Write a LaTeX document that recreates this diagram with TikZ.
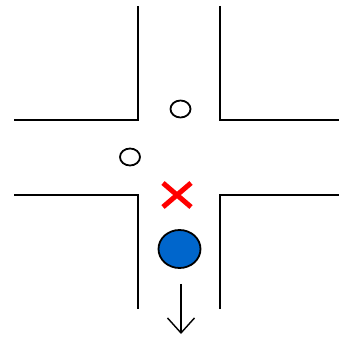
\documentclass[tikz,border=0pt]{standalone}
\usepackage{tikz}
\usetikzlibrary{arrows.meta}
\usetikzlibrary{shapes.misc}
\usetikzlibrary{shapes.geometric}
\usetikzlibrary{calc}

\definecolor{carblue}{RGB}{0,102,204}

\begin{document}
\begin{tikzpicture}[x=1pt,y=-1pt,line width=1.8pt,inner sep=0pt,>={Straight Barb[length=15pt,width=27pt]}]
\useasboundingbox (0,0) rectangle (339,342);
% kerbs of the crossing
\draw (14,120) -- (138,120) -- (138,6);
\draw (220,6) -- (220,120) -- (339,120);
\draw (14,195) -- (138,195) -- (138,309);
\draw (220,309) -- (220,195) -- (339,195);
% others in the junction
\draw node [draw,ellipse,minimum width=20pt,minimum height=17pt] (P1) at (180.5,109) {};
\draw node [draw,ellipse,minimum width=20pt,minimum height=17pt] (P2) at (130,157) {};
\draw node [draw=red,cross out,line width=5pt,minimum width=23pt,minimum height=19pt] (X) at (177,195) {};
% own car going down
\draw node [draw,ellipse,fill=carblue,minimum width=42pt,minimum height=38pt] (car) at (179.5,249) {};
\coordinate (dest) at (181,334);
\draw [->,line width=1.4pt] ($ (car.south) + (1.5,15) $) -- (dest);
\end{tikzpicture}
\end{document}
